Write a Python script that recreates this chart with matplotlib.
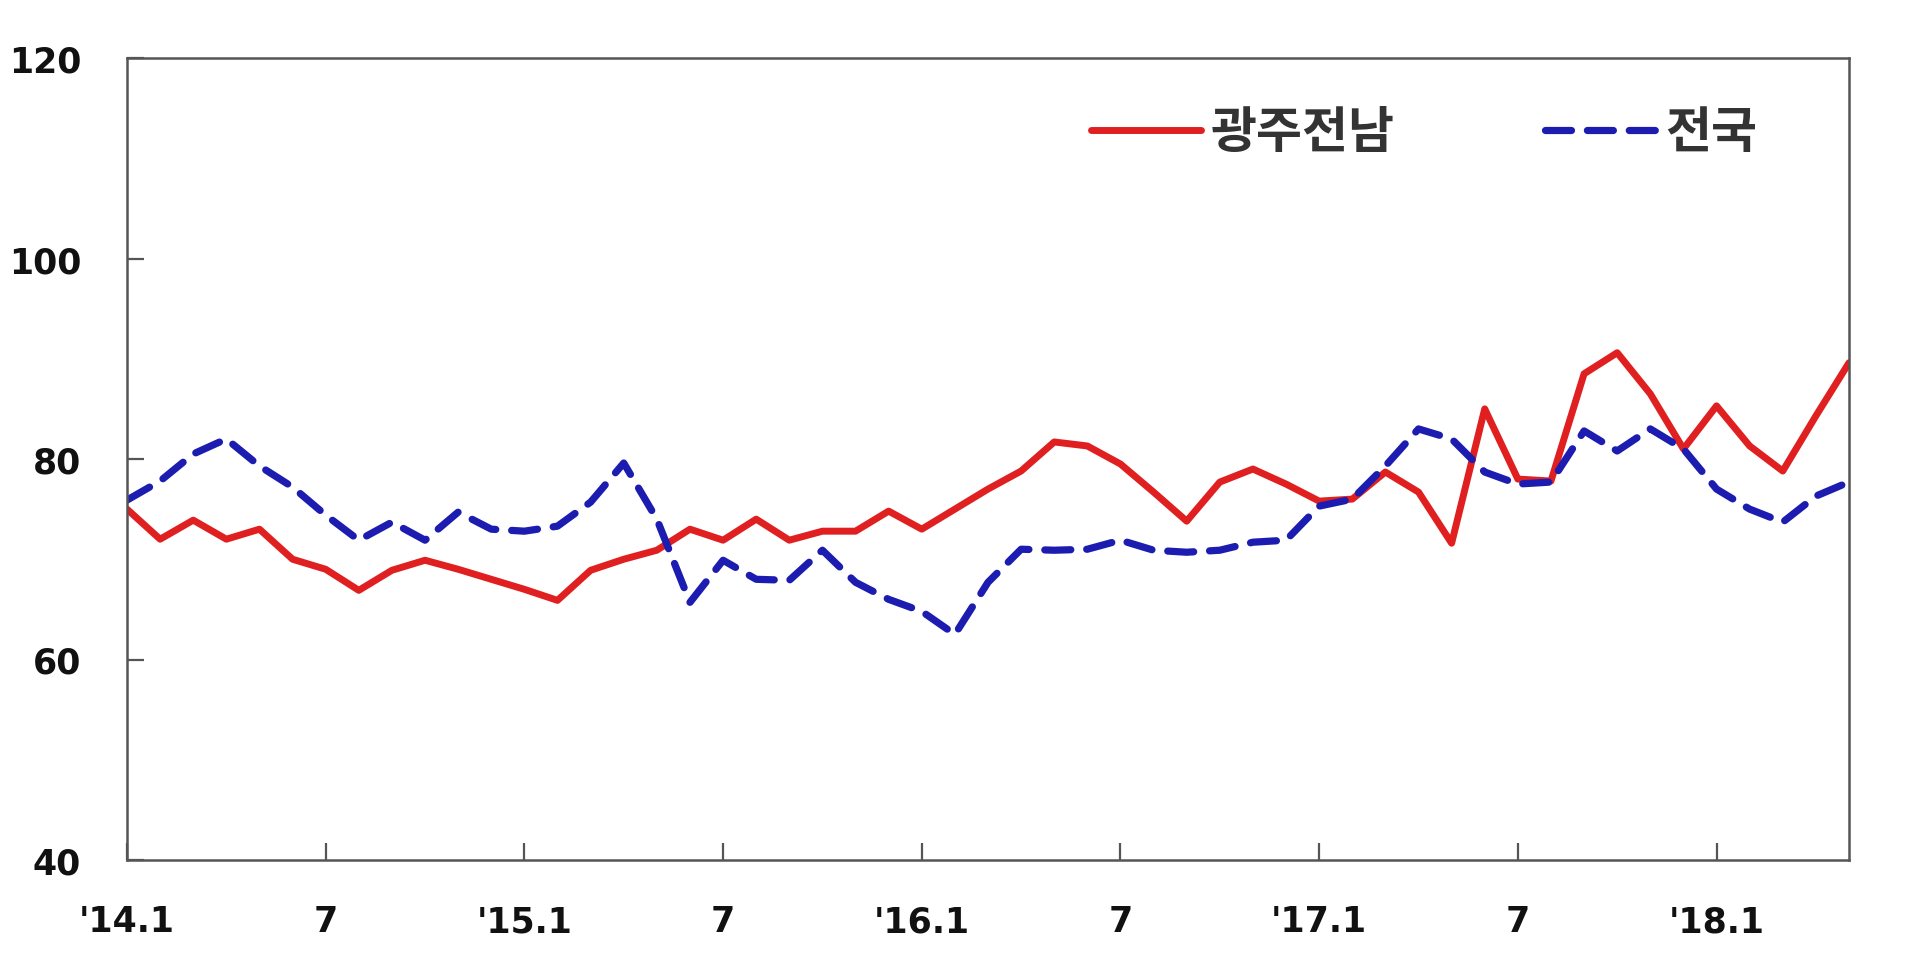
import numpy as np
import matplotlib
matplotlib.use("Agg")
import matplotlib.pyplot as plt

# months since 2014.1
months = np.arange(53)
tick_pos = [0, 6, 12, 18, 24, 30, 36, 42, 48]
tick_labels = ["'14.1", "7", "'15.1", "7", "'16.1", "7", "'17.1", "7", "'18.1"]

gwangju_jeonnam = [75.0, 72.0, 73.9, 72.0, 73.0, 70.0, 69.0, 66.9, 68.9, 69.9,
                   69.0, 68.0, 67.0, 65.9, 68.9, 70.0, 70.9, 73.0, 71.9, 74.0,
                   71.9, 72.8, 72.8, 74.8, 73.0, 75.0, 77.0, 78.8, 81.7, 81.3,
                   79.5, 76.7, 73.8, 77.7, 79.0, 77.5, 75.8, 76.0, 78.7, 76.7,
                   71.6, 85.0, 78.0, 77.8, 88.5, 90.6, 86.5, 81.0, 85.3, 81.3,
                   78.8, 84.3, 89.6]
nationwide = [75.9, 77.8, 80.5, 82.0, 79.3, 77.2, 74.4, 71.9, 73.7, 71.9,
              74.7, 73.0, 72.8, 73.3, 75.7, 79.6, 74.0, 65.7, 69.9, 68.0,
              67.9, 70.9, 67.7, 66.0, 64.8, 62.5, 67.7, 71.0, 70.9, 71.0,
              71.9, 70.9, 70.7, 70.9, 71.7, 71.9, 75.3, 76.0, 79.3, 83.0,
              82.0, 78.7, 77.5, 77.7, 82.8, 80.8, 83.0, 81.0, 77.0, 75.0,
              73.7, 76.3, 77.7]

red = '#e02020'
blue = '#1c1cb0'

fig = plt.figure(figsize=(19.2, 9.78), dpi=100)
ax = fig.add_axes([127 / 1920, 1 - 861 / 978, 1722 / 1920, 802 / 978])

ax.plot(months, gwangju_jeonnam, color=red, lw=5, solid_joinstyle='round',
        solid_capstyle='round', label='광주전남')
ax.plot(months, nationwide, color=blue, lw=5.2, linestyle=(0, (3.6, 2.2)),
        dash_capstyle='round', dash_joinstyle='round', label='전국')

ax.set_xlim(0, 52)
ax.set_ylim(40, 120)
ax.set_yticks([40, 60, 80, 100, 120])
ax.set_xticks(tick_pos)
ax.set_xticklabels(tick_labels)

for s in ax.spines.values():
    s.set_color('#555555')
    s.set_linewidth(1.8)

ax.tick_params(direction='in', length=12, width=1.6, color='#555555',
               labelsize=25, labelcolor='#111111')
ax.tick_params(axis='y', pad=33)
ax.tick_params(axis='x', pad=32)
ax.tick_params(top=False, right=False)
for lab in ax.get_xticklabels() + ax.get_yticklabels():
    lab.set_fontweight('bold')
    lab.set_family('DejaVu Sans')

leg = fig.legend(loc='center left', bbox_to_anchor=(1066 / 1920, 1 - 134 / 978),
                 ncol=2, frameon=False, borderpad=0, handlelength=2.2,
                 handletextpad=0.2, columnspacing=3.0,
                 prop={'family': ['Noto Sans CJK KR', 'DejaVu Sans'],
                       'size': 36, 'weight': 'bold'})
for t in leg.get_texts():
    t.set_color('#333333')

fig.savefig('out.png', dpi=100)
